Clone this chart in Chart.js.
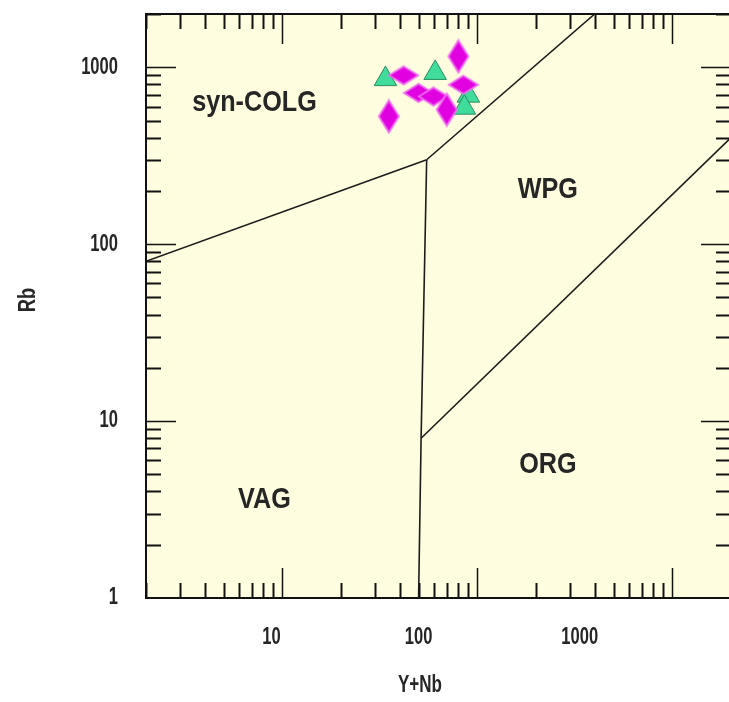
<!DOCTYPE html>
<html>
<head>
<meta charset="utf-8">
<script src="https://cdn.jsdelivr.net/npm/chart.js@4.4.1/dist/chart.umd.min.js"></script>
<style>
  html, body { margin: 0; padding: 0; background: #fff; }
  #wrap { width: 729px; height: 702px; overflow: hidden; }
</style>
</head>
<body>
<div id="wrap"><canvas id="pearceChart" width="745" height="702"></canvas></div>
<script>
// Field boundaries of the Rb vs (Y+Nb) discrimination diagram
var colgVagX = [2, 55];
var colgVagY = [80, 300];
var colgWpgX = [55, 400];
var colgWpgY = [300, 2000];
var vagLineX = [55, 51.5, 50];
var vagLineY = [300, 8, 1];
var wpgOrgX = [51.5, 2000];
var wpgOrgY = [8, 400];

// Samples (green triangles and magenta diamonds)
var triangleX = [33.8, 60.8, 90.0, 85.9];
var triangleY = [857, 929, 691, 591];
var diamondX = [80.0, 41.9, 35.2, 50.0, 59.6, 69.7, 84.9];
var diamondY = [1153, 900, 528, 716, 684, 576, 797];
var diamondShape = ['tall', 'wide', 'tall', 'wide', 'wide', 'tall', 'wide'];

// Axis labels
var yTicks = [1, 10, 100, 1000];
var xTickLabels = ['10', '100', '1000'];
var xTickAt = [8.8, 50, 335]; // where the labels sit in the original figure

// Field names
var fieldNames = ['syn-COLG', 'WPG', 'ORG', 'VAG'];
var fieldX = [7.2, 230, 230, 8.1];
var fieldY = [631, 203, 5.65, 3.58];

var FONT = '"Liberation Sans", Arial, sans-serif';

function toPoints(xs, ys) {
    return xs.map(function (x, i) { return { x: x, y: ys[i] }; });
}

// Diamonds are drawn as small canvases so tall and wide ones can be used
function makeDiamond(w, h) {
    var c = document.createElement('canvas');
    c.width = w + 4;
    c.height = h + 4;
    var g = c.getContext('2d');
    g.beginPath();
    g.moveTo(c.width / 2, 2);
    g.lineTo(c.width - 2, c.height / 2);
    g.lineTo(c.width / 2, c.height - 2);
    g.lineTo(2, c.height / 2);
    g.closePath();
    g.fillStyle = '#e000e0';
    g.fill();
    g.strokeStyle = 'rgba(238,110,238,0.9)';
    g.lineWidth = 2;
    g.stroke();
    return c;
}
var diamondTall = makeDiamond(20, 32);
var diamondWide = makeDiamond(29, 18);

function boundary(xs, ys) {
    return {
        type: 'line',
        data: toPoints(xs, ys),
        borderColor: '#1c1c1c',
        borderWidth: 1.6,
        pointRadius: 0,
        fill: false,
        tension: 0,
        order: 3
    };
}

// Text in the figure is tall and narrow, so squeeze it horizontally
function condensedText(ctx, text, x, y, sx, align) {
    ctx.save();
    ctx.translate(x, y);
    ctx.scale(sx, 1);
    ctx.textAlign = align;
    ctx.fillText(text, 0, 0);
    ctx.restore();
}

function noPadding(s) {
    s.paddingTop = 0;
    s.paddingBottom = 0;
    s.paddingLeft = 0;
    s.paddingRight = 0;
}

// Background, inner tick marks, frame, tick labels and field names
var frameAndTicks = {
    id: 'frameAndTicks',
    beforeDatasetsDraw: function (chart) {
        var ctx = chart.ctx;
        var a = chart.chartArea;
        var xs = chart.scales.x;
        var ys = chart.scales.y;
        ctx.save();
        ctx.fillStyle = '#fefde0';
        ctx.fillRect(a.left, a.top, a.right - a.left, a.bottom - a.top);

        ctx.strokeStyle = '#111';
        for (var d = 1; d <= 1000; d *= 10) {
            for (var m = 1; m <= 9; m++) {
                var v = d * m;
                var len = m === 1 ? 30 : 15;
                ctx.lineWidth = m === 1 ? 1.5 : 2;
                if (v >= 2 && v <= 2000) {
                    var px = Math.round(xs.getPixelForValue(v)) + 0.5;
                    ctx.beginPath();
                    ctx.moveTo(px, a.bottom); ctx.lineTo(px, a.bottom - len);
                    ctx.moveTo(px, a.top); ctx.lineTo(px, a.top + len);
                    ctx.stroke();
                }
                if (v > 1 && v <= 2000) {
                    var py = Math.round(ys.getPixelForValue(v)) + 0.5;
                    ctx.beginPath();
                    ctx.moveTo(a.left, py); ctx.lineTo(a.left + len, py);
                    ctx.moveTo(a.right, py); ctx.lineTo(a.right - len, py);
                    ctx.stroke();
                }
            }
        }

        ctx.lineWidth = 2;
        ctx.strokeStyle = '#111';
        ctx.strokeRect(a.left, a.top, a.right - a.left, a.bottom - a.top);

        ctx.fillStyle = '#262626';
        ctx.textBaseline = 'middle';

        // Tick labels from the scales' ticks
        ctx.font = 'bold 23px ' + FONT;
        xs.ticks.forEach(function (t, i) {
            condensedText(ctx, xTickLabels[i], xs.getPixelForValue(t.value), a.bottom + 40, 0.72, 'center');
        });
        ys.ticks.forEach(function (t) {
            condensedText(ctx, String(t.value), a.left - 28, ys.getPixelForValue(t.value), 0.72, 'right');
        });

        // Axis titles
        condensedText(ctx, 'Y+Nb', 420, 686, 0.74, 'center');
        ctx.save();
        ctx.translate(29, 300);
        ctx.rotate(-Math.PI / 2);
        condensedText(ctx, 'Rb', 0, 0, 0.8, 'center');
        ctx.restore();

        // Field names
        ctx.font = 'bold 30px ' + FONT;
        fieldNames.forEach(function (name, i) {
            condensedText(ctx, name, xs.getPixelForValue(fieldX[i]), ys.getPixelForValue(fieldY[i]), 0.84, 'center');
        });
        ctx.restore();
    }
};

var ctx = document.getElementById('pearceChart');
var pearceChart = new Chart(ctx, {
    data: {
        datasets: [
            {
                type: 'scatter',
                label: 'diamonds',
                data: toPoints(diamondX, diamondY),
                pointStyle: function (c) {
                    return diamondShape[c.dataIndex] === 'tall' ? diamondTall : diamondWide;
                },
                order: 1
            },
            {
                type: 'scatter',
                label: 'triangles',
                data: toPoints(triangleX, triangleY),
                pointStyle: 'triangle',
                pointRadius: 13,
                backgroundColor: '#3fdc9c',
                borderColor: '#2b8c60',
                borderWidth: 1,
                order: 2
            },
            boundary(colgVagX, colgVagY),
            boundary(colgWpgX, colgWpgY),
            boundary(vagLineX, vagLineY),
            boundary(wpgOrgX, wpgOrgY)
        ]
    },
    options: {
        responsive: false,
        animation: false,
        devicePixelRatio: 1,
        layout: { padding: { top: 13, right: 11, bottom: 0, left: 0 } },
        plugins: { legend: { display: false }, tooltip: { enabled: false } },
        scales: {
            x: {
                type: 'logarithmic',
                position: 'bottom',
                min: 2,
                max: 2000,
                bounds: 'data',
                grid: { display: false, drawTicks: false },
                border: { display: false },
                afterBuildTicks: function (s) {
                    s.ticks = xTickAt.map(function (v) { return { value: v }; });
                },
                afterFit: function (s) { s.height = 104; noPadding(s); },
                ticks: { display: false, autoSkip: false }
            },
            y: {
                type: 'logarithmic',
                position: 'left',
                min: 1,
                max: 2000,
                bounds: 'data',
                grid: { display: false, drawTicks: false },
                border: { display: false },
                afterBuildTicks: function (s) {
                    s.ticks = yTicks.map(function (v) { return { value: v }; });
                },
                afterFit: function (s) { s.width = 146; noPadding(s); },
                ticks: { display: false, autoSkip: false }
            }
        }
    },
    plugins: [frameAndTicks]
});
</script>
</body>
</html>
